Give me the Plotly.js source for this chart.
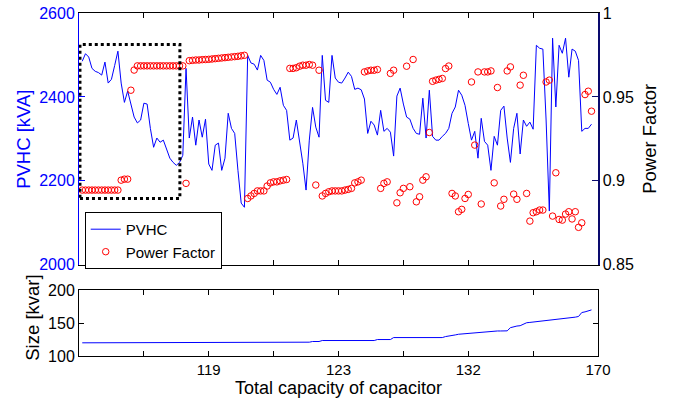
<!DOCTYPE html>
<html>
<head>
<meta charset="utf-8">
<script src="https://cdn.plot.ly/plotly-3.0.1.min.js"></script>
<style>
html,body{margin:0;padding:0;background:#fff;}
#chart{width:678px;height:398px;}
</style>
</head>
<body>
<div id="chart"></div>
<script>
// Index of each configuration (1..158)
var idx = [];
for (var i = 1; i <= 158; i++) idx.push(i);

// PVHC [kVA]
var pvhc = [2485,2503,2495,2468,2461,2458,2452,2483,2433,2442,
2475,2509,2433,2387,2414,2380,2352,2338,2345,2385,
2383,2325,2280,2302,2292,2297,2273,2254,2244,2237,
2244,2261,2468,2302,2352,2285,2345,2304,2347,2240,
2225,2285,2290,2225,2254,2361,2325,2313,2225,2147,
2137,2499,2481,2478,2464,2499,2487,2440,2435,2418,
2406,2423,2380,2368,2297,2302,2345,2297,2242,2178,
2297,2375,2328,2304,2499,2392,2387,2499,2445,2435,
2433,2445,2459,2449,2418,2421,2417,2395,2313,2342,
2333,2309,2368,2318,2325,2316,2259,2402,2421,2383,
2352,2347,2325,2313,2311,2397,2302,2416,2306,2297,
2297,2306,2313,2325,2361,2376,2416,2404,2380,2337,
2297,2318,2254,2349,2294,2285,2225,2306,2285,2368,
2378,2302,2244,2325,2361,2264,2345,2330,2340,2323,
2523,2516,2514,2345,2128,2540,2376,2523,2504,2540,
2447,2514,2509,2487,2318,2325,2325,2335];

// Power factor
var pf = [0.8945,0.8945,0.8945,0.8945,0.8945,0.8945,0.8945,0.8945,0.8945,0.8945,
0.8945,0.8945,0.9004,0.901,0.901,0.954,0.966,0.9685,0.9685,0.9685,
0.9685,0.9685,0.9685,0.9685,0.9685,0.9685,0.9685,0.9685,0.9685,0.9685,
0.9685,0.9685,0.8985,0.9716,0.9718,0.972,0.972,0.9722,0.9723,0.9724,
0.9726,0.9728,0.973,0.9732,0.9734,0.9736,0.9738,0.974,0.9742,0.9745,
0.9748,0.8895,0.891,0.8925,0.894,0.894,0.894,0.8969,0.8988,0.8994,
0.8994,0.9,0.9004,0.9008,0.967,0.967,0.9674,0.9683,0.9689,0.9689,
0.9693,0.9689,0.8975,0.9659,0.891,0.8925,0.8935,0.894,0.894,0.894,
0.894,0.8945,0.8949,0.8955,0.8988,0.8994,0.9004,0.9649,0.9655,0.9659,
0.9659,0.9663,0.8955,0.8985,0.8994,0.964,0.9659,0.8869,0.8929,0.8955,
0.9683,0.8965,0.9723,0.8875,0.8905,0.9004,0.9024,0.9288,0.9593,0.96,
0.9605,0.961,0.9669,0.9684,0.8925,0.891,0.8816,0.883,0.8895,0.8919,
0.9589,0.9213,0.9649,0.8862,0.9649,0.9649,0.9655,0.8988,0.9556,0.885,
0.889,0.9655,0.9679,0.8921,0.889,0.957,0.9629,0.8925,0.876,0.881,
0.8816,0.8826,0.8826,0.9589,0.96,0.879,0.9048,0.877,0.8766,0.8802,
0.8816,0.8773,0.8816,0.8723,0.875,0.9514,0.9534,0.9415];

// Capacitor size [kvar]
var sizeKvar = [120,120,120,120,120,120,120,120,120,120,
120,120,120,120,120,120,120,120,120,120,
120,120,120,120,120,120,120,120,120,120,
120,120,120,120,120,120,120,120,120,120,
120,120,120,120,120,120,120,120,120,120,
120,121,121,121,121,121,121,121,121,121,
121,121,121,121,121,121,121,121,121,121,
121,122,122,122,123.5,123.5,123.5,123.5,123.5,123.5,
123.5,123.5,123.5,123.5,123.5,123.5,123.5,123.5,123.5,123.5,
123.5,125,125,125,125,125,128,128,128,128,
128,128,128,128,128,128,128,128,128,128,
128,128,129.5,130,131,132,133,133.5,134,134,
134.5,135,135.5,136,136.5,137,137,137.5,138,138,
138,138.2,143,144.5,145.5,146,148,150.5,151,151.5,
152,152.5,153,153.5,154,154.5,155,155.5,156,156.5,
157,158,159,160,166,167,168,170];

// x tick positions and labels (total capacity)
var xTickVals = [0,20,40,60,80,100,120,140,160];
var xTickText = ['','','119','','123','','132','','170'];

var FONT = 'Liberation Sans, Arial, Helvetica, sans-serif';
var BLUE = '#0000ff';
var NAVY = '#0a0a6e';

var traces = [
  {x: idx, y: pvhc, type: 'scatter', mode: 'lines', name: 'PVHC',
   line: {color: BLUE, width: 1}, xaxis: 'x', yaxis: 'y'},
  {x: idx, y: pf, type: 'scatter', mode: 'markers', name: 'Power Factor',
   marker: {symbol: 'circle-open', size: 6.5, color: '#ff0000', line: {width: 1, color: '#ff0000'}},
   xaxis: 'x', yaxis: 'y2'},
  {x: idx, y: sizeKvar, type: 'scatter', mode: 'lines', name: 'Size',
   line: {color: BLUE, width: 1}, xaxis: 'x2', yaxis: 'y3', showlegend: false}
];

var layout = {
  width: 678, height: 398,
  margin: {l: 79, r: 80, t: 13, b: 42},
  paper_bgcolor: '#ffffff', plot_bgcolor: '#ffffff',
  font: {family: FONT, size: 16, color: '#000'},
  showlegend: true,
  legend: {x: 0.011, y: 0.42, xanchor: 'left', yanchor: 'top',
    bgcolor: '#ffffff', bordercolor: '#000', borderwidth: 1,
    font: {family: FONT, size: 15, color: '#000'}, tracegroupgap: 0, itemwidth: 30},
  xaxis: {domain: [0, 1], anchor: 'y', range: [0, 160],
    tickvals: xTickVals, showticklabels: false, ticks: 'inside', ticklen: 5,
    tickcolor: '#000', showline: true, linecolor: '#000', linewidth: 1,
    mirror: 'ticks', showgrid: false, zeroline: false},
  yaxis: {domain: [0.266, 1], anchor: 'x', range: [2000, 2600],
    tickvals: [2000, 2200, 2400, 2600], ticks: 'inside', ticklen: 6,
    tickcolor: BLUE, showline: true, linecolor: BLUE, linewidth: 1,
    tickfont: {family: FONT, size: 16, color: BLUE},
    showgrid: false, zeroline: false},
  yaxis2: {overlaying: 'y', anchor: 'x', side: 'right', range: [0.85, 1],
    tickvals: [0.85, 0.9, 0.95, 1], ticktext: ['0.85', '0.9', '0.95', '1'],
    ticks: 'inside', ticklen: 6, tickcolor: NAVY,
    showline: true, linecolor: NAVY, linewidth: 1.5,
    tickfont: {family: FONT, size: 16, color: '#000'},
    showgrid: false, zeroline: false},
  xaxis2: {domain: [0, 1], anchor: 'y3', range: [0, 160],
    tickvals: xTickVals, ticktext: xTickText, ticks: 'inside', ticklen: 5,
    tickcolor: '#000', showline: true, linecolor: '#000', linewidth: 1,
    mirror: 'ticks', tickfont: {family: FONT, size: 15, color: '#000'},
    title: {text: 'Total capacity of capacitor', font: {family: FONT, size: 18, color: '#000'}, standoff: 3},
    showgrid: false, zeroline: false},
  yaxis3: {domain: [0, 0.192], anchor: 'x2', range: [100, 200],
    tickvals: [100, 150, 200], ticks: 'inside', ticklen: 5, tickcolor: '#000',
    showline: true, linecolor: '#000', linewidth: 1, mirror: 'ticks',
    tickfont: {family: FONT, size: 16, color: '#000'},
    showgrid: false, zeroline: false},
  annotations: [
    {text: 'PVHC [kVA]', xref: 'paper', yref: 'paper', x: -0.106, y: 0.633,
     xanchor: 'center', yanchor: 'middle', textangle: -90, showarrow: false,
     font: {family: FONT, size: 18.5, color: BLUE}},
    {text: 'Power Factor', xref: 'paper', yref: 'paper', x: 1.100, y: 0.633,
     xanchor: 'center', yanchor: 'middle', textangle: -90, showarrow: false,
     font: {family: FONT, size: 18.5, color: '#000'}},
    {text: 'Size [kvar]', xref: 'paper', yref: 'paper', x: -0.089, y: 0.111,
     xanchor: 'center', yanchor: 'middle', textangle: -90, showarrow: false,
     font: {family: FONT, size: 18.5, color: '#000'}}
  ],
  shapes: [
    {type: 'rect', xref: 'x', yref: 'y', x0: 0.3, x1: 31.1, y0: 2158, y1: 2525,
     line: {color: '#000', width: 3, dash: 'dot'}, fillcolor: 'rgba(0,0,0,0)', layer: 'above'}
  ]
};

Plotly.newPlot('chart', traces, layout, {displayModeBar: false, staticPlot: true});
</script>
</body>
</html>
